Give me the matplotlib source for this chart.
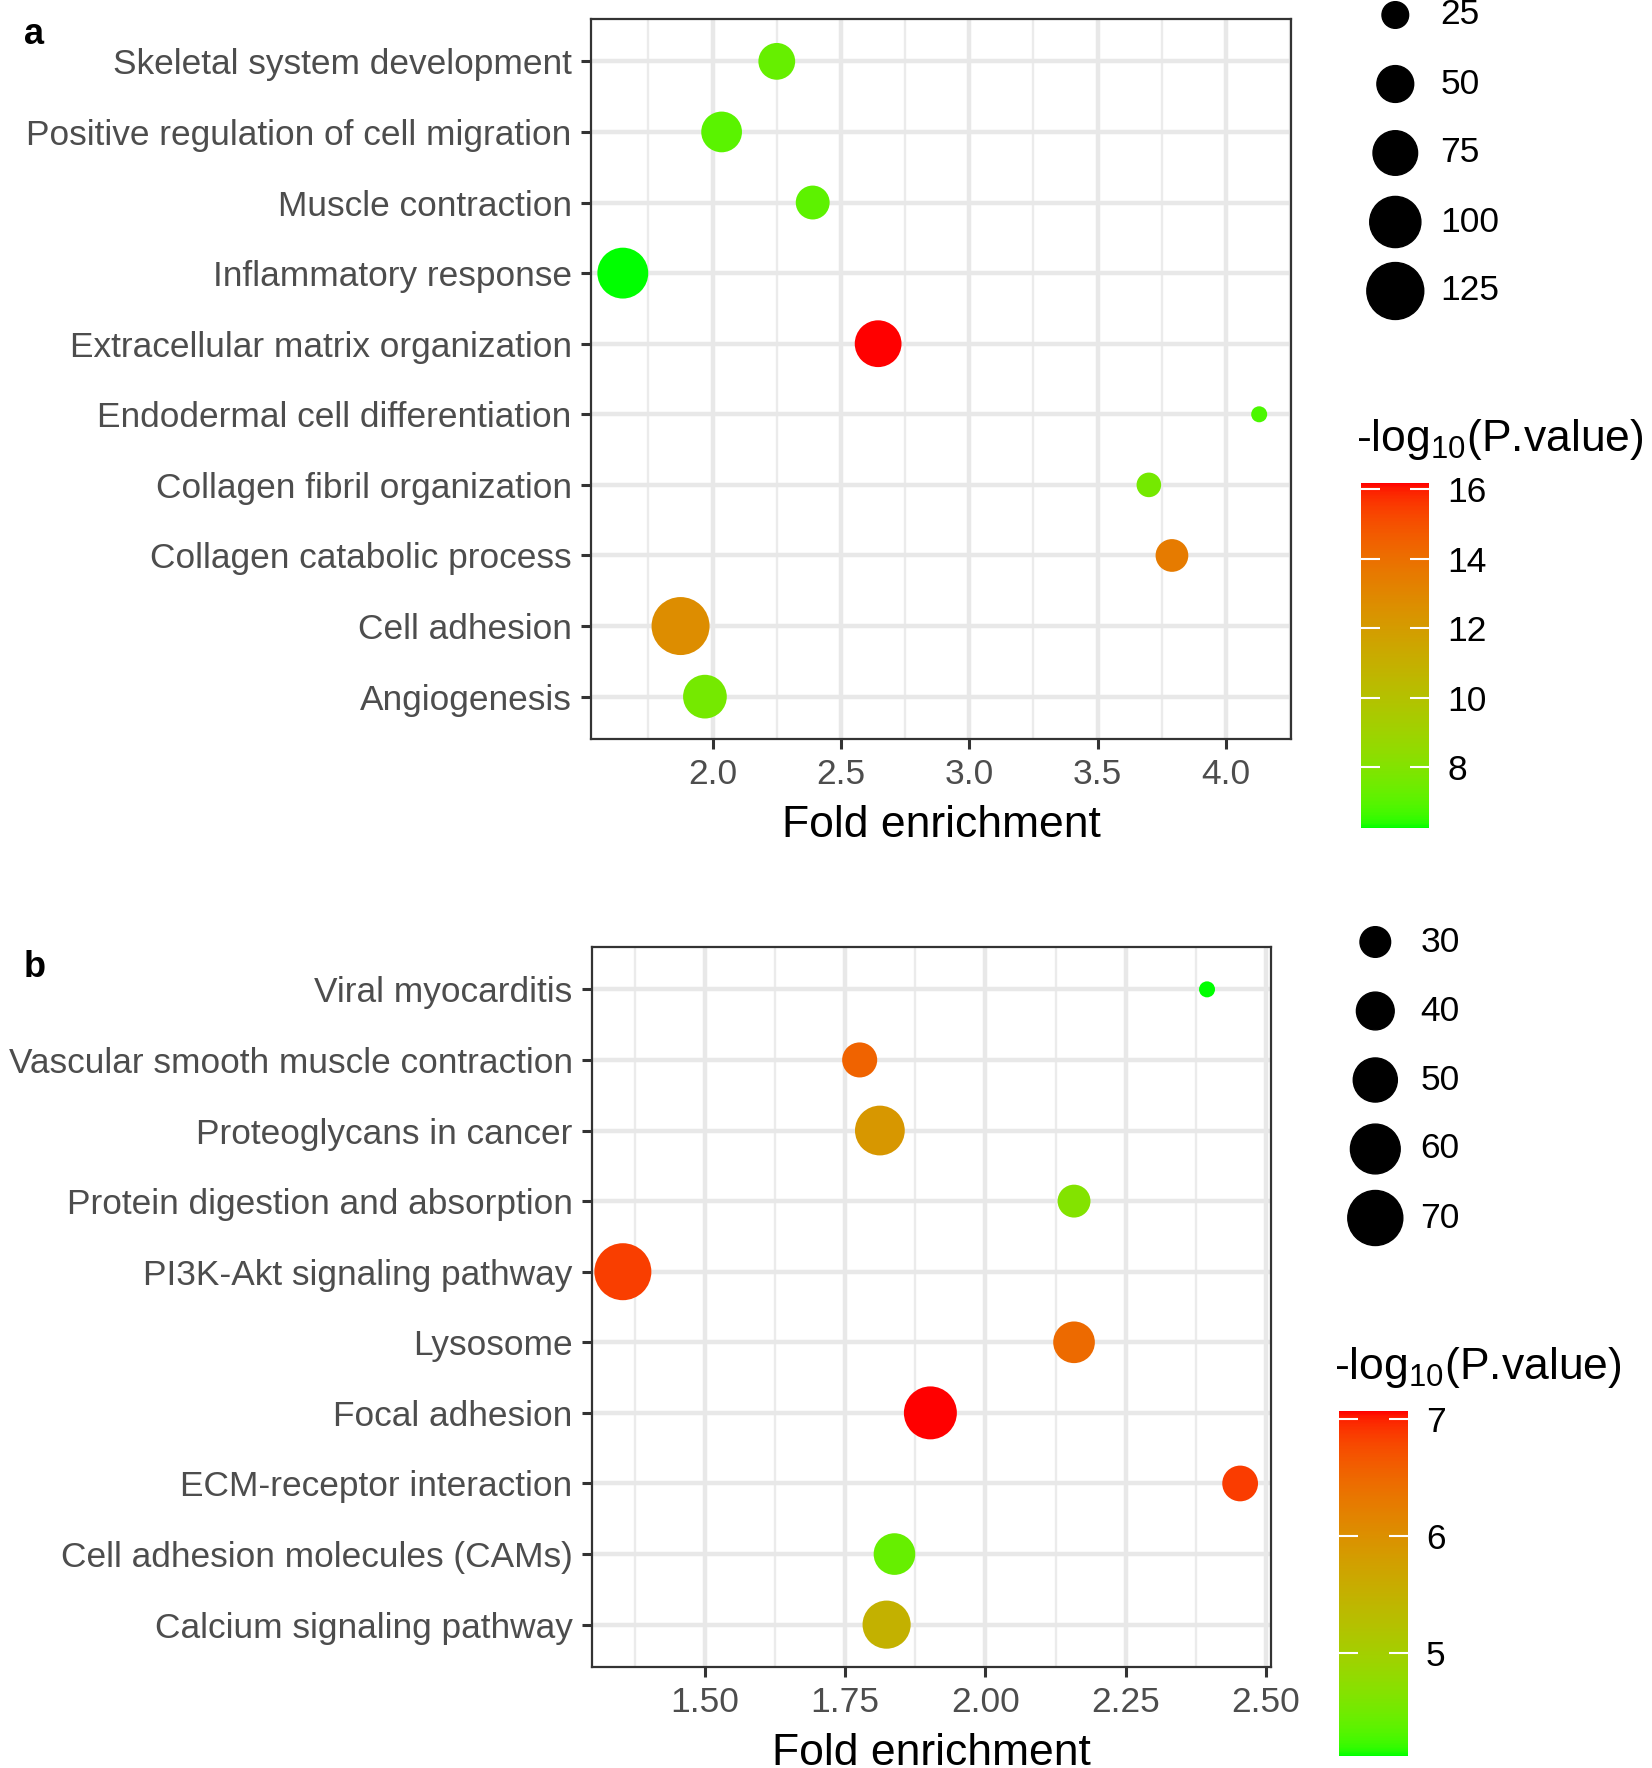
import numpy as np
import matplotlib
matplotlib.use('Agg')
import matplotlib.pyplot as plt
from matplotlib.colors import ListedColormap, Normalize
from matplotlib.ticker import MultipleLocator, FormatStrFormatter

plt.rcParams['font.family'] = ['Liberation Sans', 'DejaVu Sans']
plt.rcParams['mathtext.fontset'] = 'custom'
plt.rcParams['mathtext.rm'] = 'Liberation Sans'
plt.rcParams['mathtext.it'] = 'Liberation Sans:italic'

# Panel a: GO biological process (top to bottom)
terms_a = ['Skeletal system development', 'Positive regulation of cell migration',
           'Muscle contraction', 'Inflammatory response', 'Extracellular matrix organization',
           'Endodermal cell differentiation', 'Collagen fibril organization',
           'Collagen catabolic process', 'Cell adhesion', 'Angiogenesis']
fold_a = [2.25, 2.035, 2.39, 1.65, 2.645, 4.13, 3.70, 3.79, 1.875, 1.97]
count_a = [50, 62, 42, 99, 83, 8, 21, 39, 130, 72]
logp_a = [7.3, 7.05, 7.1, 6.26, 16.17, 6.8, 7.65, 13.5, 12.7, 7.65]
size_breaks_a = [25, 50, 75, 100, 125]
color_ticks_a = [8, 10, 12, 14, 16]

# Panel b: KEGG pathways (top to bottom)
terms_b = ['Viral myocarditis', 'Vascular smooth muscle contraction', 'Proteoglycans in cancer',
           'Protein digestion and absorption', 'PI3K-Akt signaling pathway', 'Lysosome',
           'Focal adhesion', 'ECM-receptor interaction', 'Cell adhesion molecules (CAMs)',
           'Calcium signaling pathway']
fold_b = [2.395, 1.776, 1.812, 2.158, 1.354, 2.158, 1.902, 2.454, 1.838, 1.824]
count_b = [14, 36, 60, 33, 74, 46, 66, 37, 46, 57]
logp_b = [4.12, 6.55, 5.9, 4.65, 6.86, 6.48, 7.07, 6.87, 4.42, 5.5]
size_breaks_b = [30, 40, 50, 60, 70]
color_ticks_b = [5, 6, 7]


# green -> red gradient interpolated in Lab space (like ggplot)
WHITE = np.array([0.95047, 1.0, 1.08883])
M = np.array([[0.4124, 0.3576, 0.1805], [0.2126, 0.7152, 0.0722], [0.0193, 0.1192, 0.9505]])


def to_lab(rgb):
    rgb = np.asarray(rgb, float)
    lin = np.where(rgb > 0.04045, ((rgb + 0.055) / 1.055) ** 2.4, rgb / 12.92)
    xyz = M @ lin / WHITE
    f = np.where(xyz > 0.008856, np.cbrt(xyz), 7.787 * xyz + 16 / 116)
    return np.array([116 * f[1] - 16, 500 * (f[0] - f[1]), 200 * (f[1] - f[2])])


def from_lab(lab):
    L, a, b = lab
    fy = (L + 16) / 116
    f = np.array([fy + a / 500, fy, fy - b / 200])
    xyz = np.where(f ** 3 > 0.008856, f ** 3, (f - 16 / 116) / 7.787) * WHITE
    lin = np.linalg.solve(M, xyz)
    lin = np.clip(lin, 0, None)
    rgb = np.where(lin > 0.0031308, 1.055 * lin ** (1 / 2.4) - 0.055, 12.92 * lin)
    return np.clip(rgb, 0, 1)


g, r = to_lab([0, 1, 0]), to_lab([1, 0, 0])
cmap = ListedColormap([from_lab(g + t * (r - g)) for t in np.linspace(0, 1, 256)])


def diam(v, counts, dmin, dmax):
    lo, hi = np.sqrt(min(counts)), np.sqrt(max(counts))
    return dmin + (dmax - dmin) * (np.sqrt(v) - lo) / (hi - lo)


def panel(ax, terms, fold, count, logp, dmin, dmax, minor, fmt):
    n = len(terms)
    y = n - np.arange(n)
    s = (diam(np.array(count), count, dmin, dmax) * 0.72) ** 2
    norm = Normalize(min(logp), max(logp))
    sc = ax.scatter(fold, y, s=s, c=logp, cmap=cmap, norm=norm, edgecolors='none', zorder=3)
    ax.set_yticks(y)
    ax.set_yticklabels(terms)
    ax.set_ylim(0.4, n + 0.6)
    lo, hi = min(fold), max(fold)
    ax.set_xlim(lo - 0.05 * (hi - lo), hi + 0.05 * (hi - lo))
    ax.xaxis.set_major_locator(MultipleLocator(minor * 2))
    ax.xaxis.set_minor_locator(MultipleLocator(minor))
    ax.xaxis.set_major_formatter(FormatStrFormatter(fmt))
    ax.set_axisbelow(True)
    ax.grid(which='major', color='#E8E8E8', lw=3.2)
    ax.grid(which='minor', axis='x', color='#EBEBEB', lw=1.7)
    for sp in ax.spines.values():
        sp.set_color('#333333')
        sp.set_linewidth(1.6)
    ax.tick_params(which='major', length=7, width=2.2, color='#333333',
                   labelcolor='#4D4D4D', labelsize=25.5, pad=7)
    ax.tick_params(axis='y', labelsize=25.4)
    ax.tick_params(which='minor', length=0)
    ax.set_xlabel('Fold enrichment', fontsize=32, labelpad=10)
    return sc


def size_legend(fig, rect, breaks, counts, dmin, dmax):
    lax = fig.add_axes(rect)
    lax.set_xlim(0, 1)
    lax.set_ylim(len(breaks) - 0.5, -0.5)
    lax.axis('off')
    yy = np.arange(len(breaks))
    s = (diam(np.array(breaks), counts, dmin, dmax) * 0.72) ** 2
    lax.scatter(np.full(len(breaks), 0.15), yy, s=s, color='black', clip_on=False)
    for yi, b in zip(yy, breaks):
        lax.text(0.30, yi, str(b), fontsize=25.5, va='center', ha='left')


def color_bar(fig, sc, rect, ticks, title, title_xy):
    cax = fig.add_axes(rect)
    cb = fig.colorbar(sc, cax=cax, ticks=ticks)
    cb.outline.set_visible(False)
    cax.minorticks_off()
    cax.tick_params(which='major', direction='in', length=14, width=1.5, color='white',
                    left=True, right=True, labelleft=False, labelright=True,
                    labelsize=25.5, labelcolor='black', pad=13)
    fig.text(title_xy[0], title_xy[1], title, fontsize=32, ha='left', va='center')


W, H = 1652, 1768
fig = plt.figure(figsize=(W / 100, H / 100), dpi=100)

ax_a = fig.add_axes([591 / W, 1 - 739 / H, 700 / W, 720 / H])
sc_a = panel(ax_a, terms_a, fold_a, count_a, logp_a, 16, 58, 0.25, '%.1f')
ax_b = fig.add_axes([592 / W, 1 - 1667 / H, 679 / W, 720 / H])
sc_b = panel(ax_b, terms_b, fold_b, count_b, logp_b, 16, 57, 0.125, '%.2f')

size_legend(fig, [1350 / W, 1 - 325.5 / H, 302 / W, 345 / H], size_breaks_a, count_a, 16, 58)
size_legend(fig, [1330 / W, 1 - 1252.5 / H, 302 / W, 345 / H], size_breaks_b, count_b, 16, 57)

title = '-log$_{10}$(P.value)'
color_bar(fig, sc_a, [1361 / W, 1 - 828 / H, 68 / W, 345 / H], color_ticks_a, title,
          (1356 / W, 1 - 440 / H))
color_bar(fig, sc_b, [1339 / W, 1 - 1756 / H, 69 / W, 345 / H], color_ticks_b, title,
          (1334 / W, 1 - 1367 / H))

fig.text(24 / W, 1 - 34 / H, 'a', fontsize=26, fontweight='bold', va='center')
fig.text(24 / W, 1 - 967 / H, 'b', fontsize=26, fontweight='bold', va='center')

fig.savefig('out.png', dpi=100)
